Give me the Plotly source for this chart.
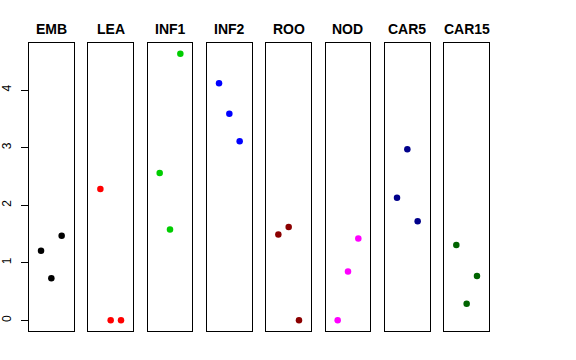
import plotly.graph_objects as go

tissues = ["EMB", "LEA", "INF1", "INF2", "ROO", "NOD", "CAR5", "CAR15"]
replicate = [1, 2, 3]
values = {
    "EMB":   [1.21, 0.73, 1.47],
    "LEA":   [2.28, 0.0, 0.0],
    "INF1":  [2.56, 1.58, 4.63],
    "INF2":  [4.12, 3.59, 3.11],
    "ROO":   [1.49, 1.62, 0.0],
    "NOD":   [0.0, 0.85, 1.42],
    "CAR5":  [2.13, 2.97, 1.72],
    "CAR15": [1.31, 0.29, 0.77],
}
colors = ["#000000", "#FF0000", "#00CD00", "#0000FF", "#8B0000", "#FF00FF", "#00008B", "#006400"]
y_ticks = [0, 1, 2, 3, 4]

W, H = 576, 360
ML, MR, MT, MB = 29, 87, 43, 29
pw = W - ML - MR
ph = H - MT - MB
step = 59.33
box_w = 44.7

fig = go.Figure()
for i, t in enumerate(tissues):
    sfx = "" if i == 0 else str(i + 1)
    fig.add_trace(go.Scatter(
        x=replicate, y=values[t], mode="markers",
        marker=dict(color=colors[i], size=6.5),
        xaxis="x" + sfx, yaxis="y" + sfx, showlegend=False,
        hoverinfo="skip"))
    x0 = i * step / pw
    x1 = min(1.0, (i * step + box_w) / pw)
    fig.layout["xaxis" + sfx] = dict(
        domain=[x0, x1], range=[-0.165, 4.165], showgrid=False, zeroline=False,
        showticklabels=False, ticks="", showline=True, mirror=True, automargin=False,
        linecolor="#000000", linewidth=1, anchor="y" + sfx, fixedrange=True)
    ya = dict(domain=[0, 1], range=[-0.185, 4.817], showgrid=False, zeroline=False,
              showline=True, mirror=True, linecolor="#000000", linewidth=1, automargin=False,
              anchor="x" + sfx, fixedrange=True)
    if i == 0:
        ya.update(tickvals=y_ticks, ticktext=[str(v) for v in y_ticks], ticks="outside",
                  ticklen=7, tickcolor="#000000", tickangle=-90, ticklabelstandoff=5,
                  tickfont=dict(family="Liberation Sans, Arial, sans-serif", size=12, color="#000000"))
    else:
        ya.update(showticklabels=False, ticks="", matches="y")
    fig.layout["yaxis" + sfx] = ya
    fig.add_annotation(x=(x0 + x1) / 2, y=1 + 14 / ph, xref="paper", yref="paper",
                       text="<b>" + t + "</b>", showarrow=False,
                       xanchor="center", yanchor="middle",
                       font=dict(family="Liberation Sans, Arial, sans-serif", size=14, color="#000000"))

fig.update_layout(width=W, height=H, margin=dict(l=ML, r=MR, t=MT, b=MB),
                  plot_bgcolor="white", paper_bgcolor="white", hovermode=False)
fig.write_html("out.html", config={"displayModeBar": False, "staticPlot": True},
               post_script="document.body.style.margin='0';")
